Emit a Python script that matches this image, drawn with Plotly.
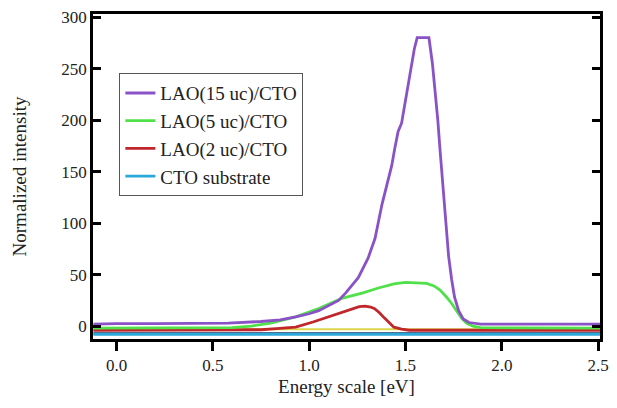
import plotly.graph_objects as go

# ---- data ----
x_15 = [-0.12, 0.0, 0.2, 0.4, 0.58, 0.75, 0.85, 0.93, 1.0, 1.05, 1.10, 1.153, 1.189, 1.22, 1.255,
        1.306, 1.342, 1.378, 1.408, 1.429, 1.444, 1.462, 1.48, 1.495, 1.51, 1.531, 1.546, 1.561,
        1.622, 1.64, 1.655, 1.668, 1.68, 1.69, 1.70, 1.71, 1.724, 1.74, 1.755, 1.776, 1.80,
        1.83, 1.89, 2.1, 2.3, 2.51]
y_15 = [2, 2.5, 2.5, 3, 3, 4.5, 6, 9, 12, 15, 20, 25, 32, 39, 47,
        66, 85, 118, 142, 156, 172, 189, 197, 214, 229, 255, 269, 280,
        280, 255, 228, 200, 170, 145, 122, 100, 68, 45, 28, 15, 7,
        3.5, 2, 2, 2, 2]

x_5 = [-0.12, 0.2, 0.5, 0.6, 0.7, 0.8, 0.93, 1.05, 1.17, 1.275, 1.36, 1.44, 1.5, 1.56, 1.61,
       1.648, 1.68, 1.714, 1.74, 1.765, 1.79, 1.816, 1.85, 1.89, 2.2, 2.51]
y_5 = [-2, -2, -2, -1.5, 0, 3, 9, 17, 27, 32, 37, 41, 42.5, 42, 41.5,
       39, 35, 28, 22, 15, 8, 3, 0, -1.5, -2, -2]

x_2 = [-0.12, 0.3, 0.6, 0.75, 0.83, 0.93, 1.02, 1.10, 1.16, 1.22, 1.26, 1.29, 1.32, 1.34, 1.365,
       1.39, 1.415, 1.44, 1.48, 1.52, 1.8, 2.2, 2.51]
y_2 = [-4, -4, -4, -3.5, -2.5, -1, 4, 9, 13, 17, 19, 19.5, 18.5, 17, 13,
       8, 3, -1, -3, -4, -4, -4, -4]

x_sub = [-0.12, 2.51]
y_sub = [-8, -8]

x_extra = [-0.12, 2.51]
y_yellow = [-3, -3]
y_slate = [-7, -7]

names = ["LAO(15 uc)/CTO", "LAO(5 uc)/CTO", "LAO(2 uc)/CTO", "CTO substrate"]
colors = ["#8a52c6", "#4fe04a", "#c0262a", "#2ba8da"]

x_ticks = [0.0, 0.5, 1.0, 1.5, 2.0, 2.5]
x_ticklabels = ["0.0", "0.5", "1.0", "1.5", "2.0", "2.5"]
y_ticks = [0, 50, 100, 150, 200, 250, 300]

fig = go.Figure()
fig.add_trace(go.Scatter(x=x_extra, y=y_slate, mode="lines", showlegend=False,
                         line=dict(color="#4d6c8e", width=2.5), hoverinfo="skip"))
fig.add_trace(go.Scatter(x=x_extra, y=y_yellow, mode="lines", showlegend=False,
                         line=dict(color="#d9d64a", width=2), hoverinfo="skip"))
fig.add_trace(go.Scatter(x=x_sub, y=y_sub, mode="lines", name=names[3],
                         line=dict(color=colors[3], width=2.8)))
fig.add_trace(go.Scatter(x=x_2, y=y_2, mode="lines", name=names[2],
                         line=dict(color=colors[2], width=2.8)))
fig.add_trace(go.Scatter(x=x_5, y=y_5, mode="lines", name=names[1],
                         line=dict(color=colors[1], width=2.8)))
fig.add_trace(go.Scatter(x=x_15, y=y_15, mode="lines", name=names[0],
                         line=dict(color=colors[0], width=2.8)))

font_family = "Liberation Serif"
fig.update_layout(
    width=617, height=408,
    margin=dict(l=93, r=8, t=10, b=69),
    paper_bgcolor="white", plot_bgcolor="white",
    font=dict(family=font_family, color="#222222", size=17),
    showlegend=True,
    legend=dict(x=0.052, y=0.818, xanchor="left", yanchor="top",
                bordercolor="#555555", borderwidth=1, bgcolor="white",
                font=dict(family=font_family, size=19, color="#222222"),
                traceorder="reversed", tracegroupgap=0),
    xaxis=dict(range=[-0.122, 2.51], tickvals=x_ticks, ticktext=x_ticklabels,
               ticks="outside", ticklen=9, tickwidth=2.5, tickcolor="black",
               showline=True, linewidth=2.5, linecolor="black", mirror=True,
               showgrid=False, zeroline=False,
               title=dict(text="Energy scale [eV]", font=dict(family=font_family, size=19), standoff=6),
               tickfont=dict(family=font_family, size=17)),
    yaxis=dict(range=[-12.5, 303], tickvals=y_ticks,
               ticks="inside", ticklen=8, tickwidth=2.5, tickcolor="black",
               showline=True, linewidth=2.5, linecolor="black", mirror="ticks",
               showgrid=False, zeroline=False,
               title=dict(text="Normalized intensity", font=dict(family=font_family, size=19), standoff=30),
               tickfont=dict(family=font_family, size=17)),
)

fig.write_html("out.html")
